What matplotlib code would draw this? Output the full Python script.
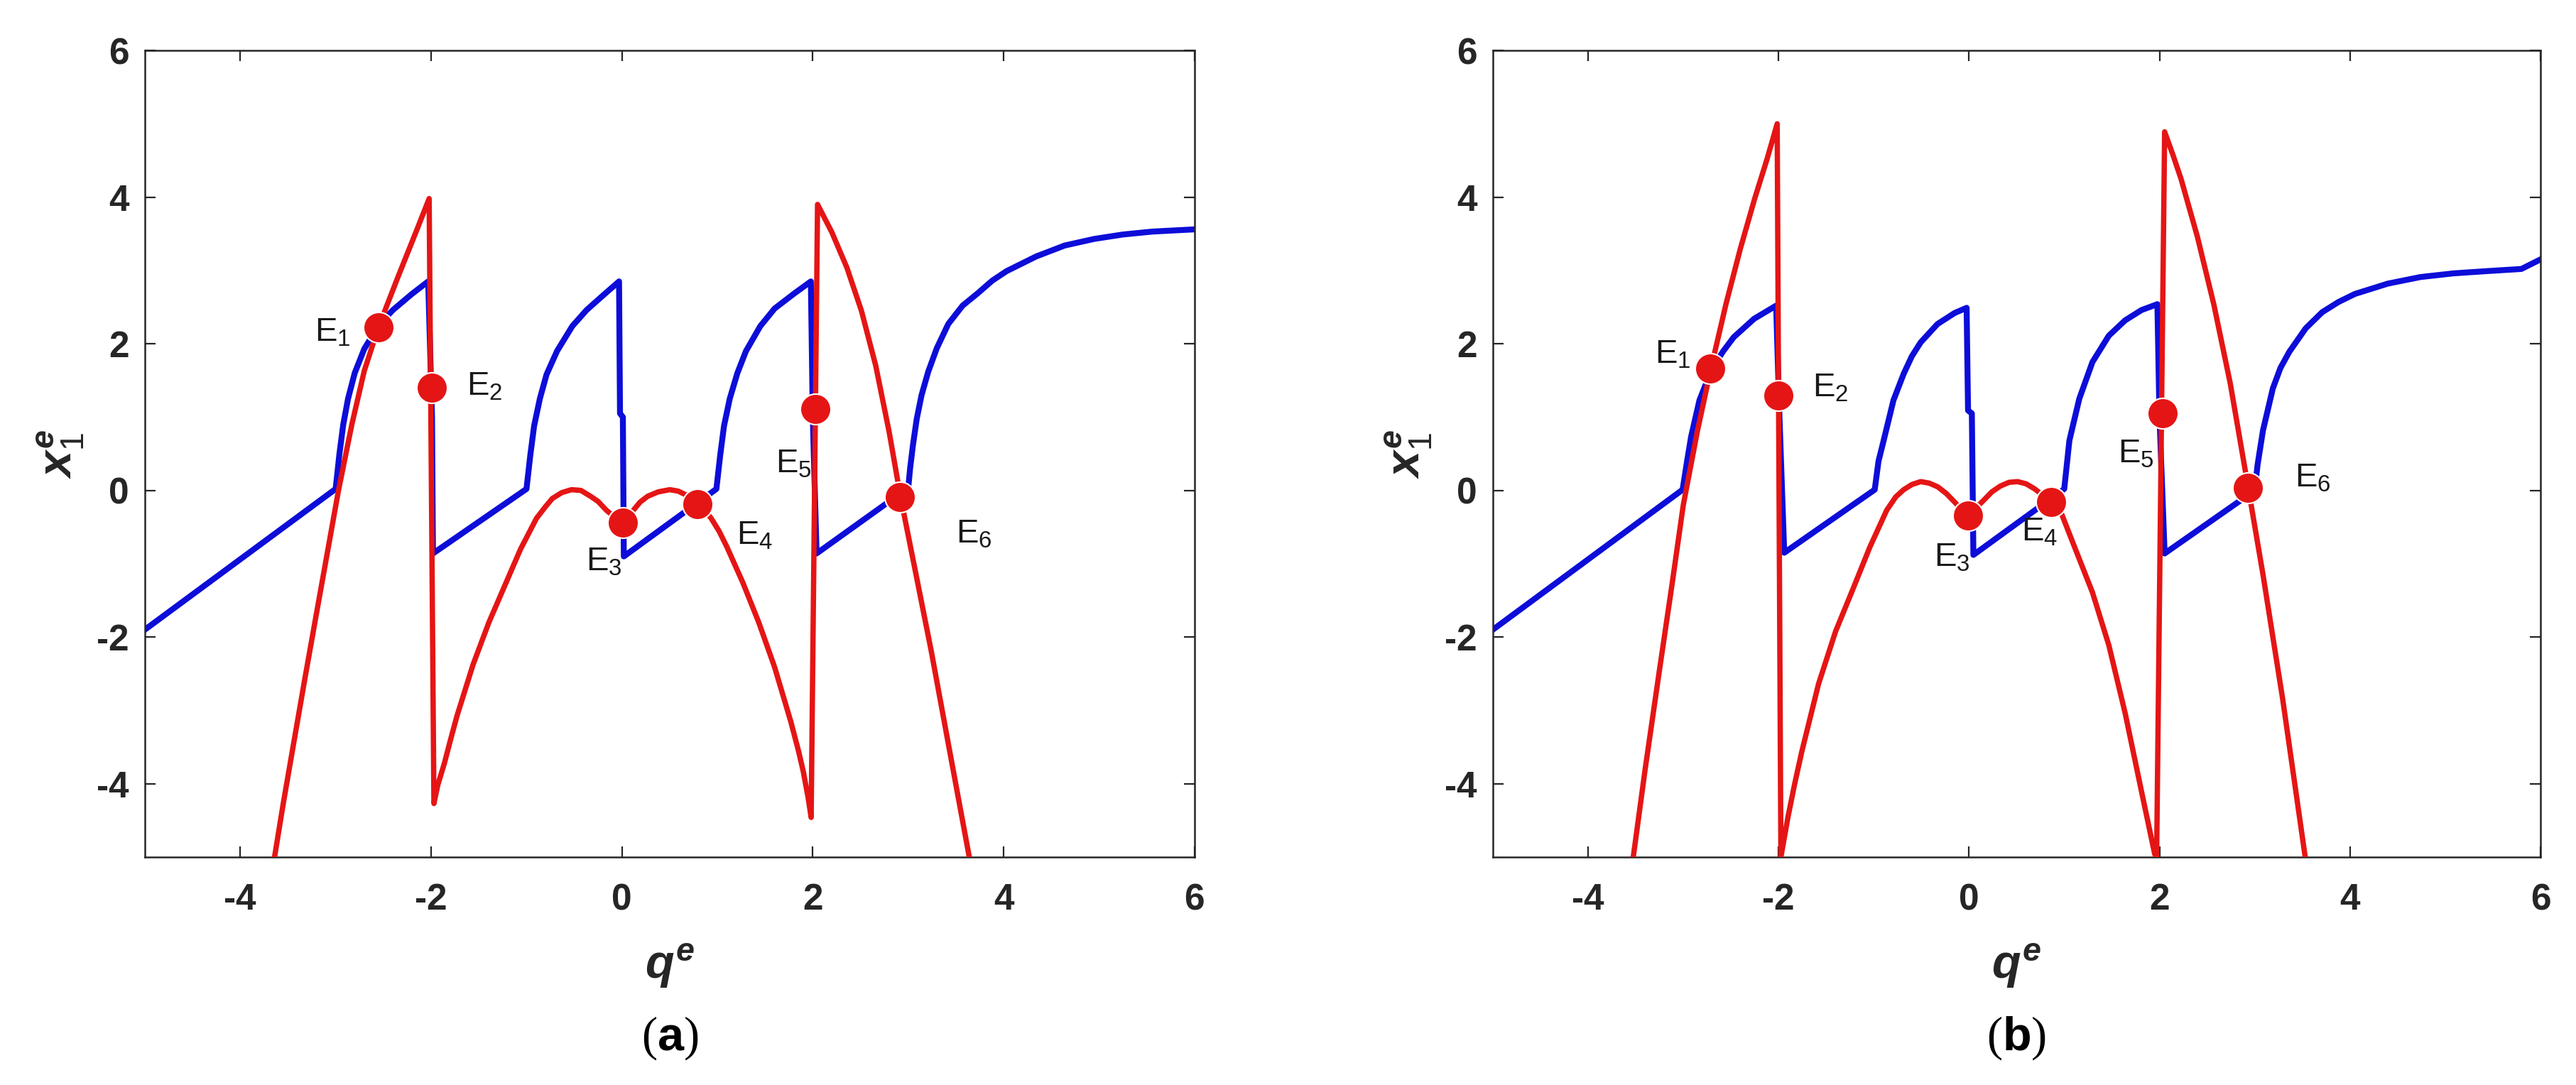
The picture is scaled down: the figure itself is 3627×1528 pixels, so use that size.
import matplotlib
matplotlib.use("Agg")
import matplotlib.pyplot as plt

plt.rcParams['font.family'] = ['Liberation Sans', 'DejaVu Sans']
plt.rcParams['mathtext.fontset'] = 'custom'
plt.rcParams['mathtext.rm'] = 'Liberation Sans'
plt.rcParams['mathtext.it'] = 'Liberation Sans:italic:bold'
plt.rcParams['mathtext.bf'] = 'Liberation Sans:bold'
plt.rcParams['axes.unicode_minus'] = False

# ---- panel (a) ----
a_blue_q = [-5.0, -3.0, -2.96, -2.92, -2.87, -2.80, -2.70, -2.55, -2.40, -2.20, -2.03,
            -1.99, -1.98, -1.0, -0.96, -0.92, -0.86, -0.79, -0.68, -0.52, -0.37, -0.18, -0.03,
            -0.02, 0.01, 0.02, 0.99, 1.03, 1.07, 1.13, 1.21, 1.30, 1.45, 1.60, 1.80, 1.98,
            2.00, 2.04, 2.78, 3.0, 3.02, 3.05, 3.09, 3.14, 3.21, 3.30, 3.42, 3.57, 3.73, 3.88,
            4.03, 4.34, 4.64, 4.95, 5.25, 5.56, 6.0]
a_blue_x = [-1.90, 0.02, 0.50, 0.90, 1.25, 1.60, 1.93, 2.25, 2.46, 2.68, 2.85,
            1.00, -0.86, 0.02, 0.48, 0.88, 1.25, 1.58, 1.90, 2.24, 2.46, 2.68, 2.85,
            1.05, 1.00, -0.90, 0.02, 0.48, 0.88, 1.25, 1.60, 1.90, 2.24, 2.48, 2.68, 2.85,
            1.00, -0.86, -0.17, 0.03, 0.30, 0.62, 0.98, 1.30, 1.62, 1.94, 2.27, 2.52, 2.69, 2.86,
            2.99, 3.19, 3.34, 3.43, 3.49, 3.53, 3.56]

a_red_q = [-3.64, -3.55, -3.44, -3.32, -3.19, -3.08, -2.97, -2.83, -2.70, -2.55, -2.35, -2.15,
           -2.02,
           -1.97, -1.93, -1.86, -1.80, -1.727, -1.561, -1.394, -1.228, -1.062, -0.895, -0.80,
           -0.729, -0.63, -0.529, -0.43, -0.329, -0.25, -0.163, -0.08, 0.003, 0.06, 0.12, 0.19,
           0.27, 0.38, 0.502, 0.59, 0.669, 0.73, 0.785, 0.86, 0.935, 1.02, 1.10, 1.268,
           1.434, 1.60, 1.767, 1.85, 1.90, 1.95, 1.983,
           2.05, 2.20, 2.357, 2.51, 2.66, 2.80, 2.92, 3.058, 3.24, 3.424, 3.64]
a_red_x = [-5.0, -4.28, -3.45, -2.55, -1.60, -0.80, 0.00, 0.90, 1.63, 2.23, 2.90, 3.55,
           3.98,
           -4.27, -4.02, -3.72, -3.42, -3.07, -2.38, -1.80, -1.30, -0.80, -0.38, -0.22,
           -0.11, -0.03, 0.01, 0.00, -0.08, -0.15, -0.27, -0.36, -0.44, -0.36, -0.27, -0.16,
           -0.08, -0.02, 0.01, -0.01, -0.06, -0.11, -0.17, -0.26, -0.38, -0.56, -0.77, -1.26,
           -1.80, -2.41, -3.14, -3.55, -3.83, -4.18, -4.46,
           3.90, 3.52, 3.04, 2.45, 1.70, 0.80, -0.09, -0.99, -2.18, -3.48, -5.0]

a_eq_q = [-2.55, -1.99, 0.01, 0.79, 2.03, 2.91]
a_eq_x = [2.22, 1.40, -0.44, -0.19, 1.11, -0.09]
a_lab_q = [-3.22, -1.63, -0.38, 1.20, 1.61, 3.50]
a_lab_x = [2.15, 1.42, -0.98, -0.62, 0.36, -0.60]

# ---- panel (b) ----
b_blue_q = [-5.0, -3.007, -2.96, -2.918, -2.83, -2.70, -2.58, -2.47, -2.257, -2.025,
            -1.99, -1.94, -0.99, -0.95, -0.90, -0.793, -0.686, -0.60, -0.507, -0.33, -0.15,
            -0.025, -0.01, 0.03, 0.046, 1.0, 1.054, 1.158, 1.296, 1.468, 1.64, 1.812, 1.978,
            2.0, 2.054, 2.88, 3.0, 3.03, 3.087, 3.19, 3.27, 3.363, 3.535, 3.708, 3.88, 4.053,
            4.397, 4.741, 5.086, 5.43, 5.80, 6.0]
b_blue_x = [-1.90, 0.01, 0.40, 0.73, 1.23, 1.66, 1.90, 2.09, 2.34, 2.52,
            1.00, -0.85, 0.01, 0.40, 0.66, 1.23, 1.59, 1.83, 2.02, 2.27, 2.42,
            2.49, 1.09, 1.05, -0.88, 0.02, 0.68, 1.25, 1.75, 2.11, 2.32, 2.46, 2.54,
            1.00, -0.86, -0.11, 0.0, 0.35, 0.82, 1.39, 1.67, 1.89, 2.21, 2.43, 2.57, 2.68,
            2.82, 2.91, 2.96, 2.99, 3.02, 3.15]

b_red_q = [-3.525, -3.40, -3.25, -3.12, -3.0, -2.85, -2.71, -2.55, -2.40, -2.25, -2.12, -2.014,
           -1.975, -1.90, -1.83, -1.757, -1.58, -1.40, -1.22, -1.04, -0.864, -0.77, -0.686,
           -0.60, -0.507, -0.42, -0.33, -0.24, -0.15, -0.07, -0.007, 0.07, 0.15, 0.24, 0.33,
           0.42, 0.51, 0.60, 0.69, 0.77, 0.857, 0.951, 1.123, 1.296, 1.468, 1.64, 1.812,
           1.95, 1.97,
           2.054, 2.14, 2.226, 2.398, 2.57, 2.743, 2.93, 3.087, 3.294, 3.53]
b_red_x = [-5.0, -3.80, -2.45, -1.30, -0.20, 0.82, 1.66, 2.55, 3.30, 3.98, 4.52, 5.0,
           -5.0, -4.45, -4.00, -3.57, -2.64, -1.92, -1.35, -0.77, -0.27, -0.09, 0.01,
           0.08, 0.12, 0.10, 0.05, -0.04, -0.16, -0.27, -0.34, -0.24, -0.14, -0.02, 0.06,
           0.11, 0.12, 0.09, 0.02, -0.06, -0.16, -0.25, -0.82, -1.39, -2.11, -3.04, -4.11,
           -4.96, -5.0,
           4.89, 4.58, 4.25, 3.46, 2.54, 1.46, 0.05, -1.15, -2.85, -5.0]

b_eq_q = [-2.72, -2.0, -0.01, 0.86, 2.03, 2.93]
b_eq_x = [1.66, 1.29, -0.34, -0.16, 1.05, 0.04]
b_lab_q = [-3.30, -1.64, -0.37, 0.55, 1.56, 3.42]
b_lab_x = [1.85, 1.40, -0.92, -0.57, 0.50, 0.17]

eq_names = ['1', '2', '3', '4', '5', '6']
ticks = [-4, -2, 0, 2, 4, 6]

BLUE = '#0d0dd9'
RED = '#e51515'

fig = plt.figure(figsize=(36.27, 15.28), dpi=100)
ax_a = fig.add_axes([0.0562, 0.2101, 0.4075, 0.7434])
ax_b = fig.add_axes([0.5795, 0.2101, 0.4067, 0.7434])

panels = [
    (ax_a, a_blue_q, a_blue_x, a_red_q, a_red_x, a_eq_q, a_eq_x, a_lab_q, a_lab_x, 'a'),
    (ax_b, b_blue_q, b_blue_x, b_red_q, b_red_x, b_eq_q, b_eq_x, b_lab_q, b_lab_x, 'b'),
]

for ax, bq, bx, rq, rx, eq, ex, lq, lx, tag in panels:
    ax.plot(bq, bx, color=BLUE, lw=6.0, solid_joinstyle='round', zorder=2)
    ax.plot(rq, rx, color=RED, lw=5.4, solid_joinstyle='round', zorder=3)
    ax.plot(eq, ex, 'o', color=RED, ms=31, mec='white', mew=1.5, zorder=4)
    for name, q, x in zip(eq_names, lq, lx):
        ax.text(q, x, r'$\mathregular{E_%s}$' % name, fontsize=34, ha='left', va='center',
                color='#1a1a1a', zorder=5)

    ax.set_xlim(-5, 6)
    ax.set_ylim(-5, 6)
    ax.set_xticks(ticks)
    ax.set_yticks(ticks)
    ax.tick_params(direction='in', length=11, width=1.6, top=True, right=True,
                   labelsize=37, colors='#262626')
    ax.tick_params(axis='x', pad=26)
    ax.tick_params(axis='y', pad=16)
    for lab in ax.get_xticklabels() + ax.get_yticklabels():
        lab.set_fontweight('bold')
    for sp in ax.spines.values():
        sp.set_color('#262626')
        sp.set_linewidth(1.8)

    ax.set_xlabel(r'$q^{e}$', fontsize=48, color='#262626')
    ax.xaxis.set_label_coords(0.5, -0.135)
    ax.xaxis.label.set_va('center')
    ax.set_ylabel(r'$x^{e}_{\mathit{1}}$', fontsize=48, color='#262626')
    ax.yaxis.set_label_coords(-0.080, 0.5)
    ax.yaxis.label.set_va('center')

    pos = ax.get_position()
    fig.text(pos.x0 + pos.width / 2, 0.043, r'($\mathbf{%s}$)' % tag, fontsize=48,
             family='Liberation Serif', ha='center', va='center')

fig.savefig('out.png', dpi=100)
